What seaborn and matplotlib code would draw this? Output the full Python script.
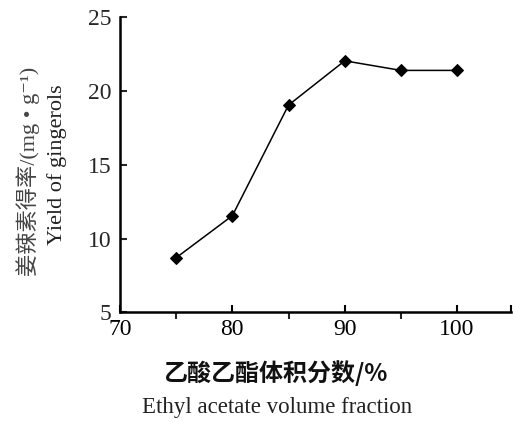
import matplotlib
matplotlib.use("Agg")
import matplotlib.pyplot as plt
import seaborn as sns
import pandas as pd
from matplotlib.ticker import FixedLocator, NullFormatter

fraction = [75, 80, 85, 90, 95, 100]
yield_vals = [8.7, 11.55, 19.05, 22.05, 21.4, 21.4]
xtick_labels = ["70", "80", "90", "100"]
ytick_vals = [5, 10, 15, 20, 25]

sns.set_theme(style="ticks")
plt.rcParams['font.family'] = ['Liberation Serif', 'Noto Sans CJK SC', 'DejaVu Sans']

df = pd.DataFrame({"fraction": fraction, "yield": yield_vals})

fig = plt.figure(figsize=(5.13, 4.22), dpi=100)
ax = fig.add_axes([120/513, 1-312.3/422, (511-120)/513, (312.3-17.3)/422])

sns.lineplot(data=df, x="fraction", y="yield", ax=ax, color="black",
             marker="D", markersize=6, markeredgecolor="black", linewidth=1.1)

ax.set_xlim(70, 104.8)
ax.set_ylim(5, 25)
ax.set_xticks([70, 80, 90, 100, 104.8], labels=xtick_labels + [""])
ax.set_yticks(ytick_vals, labels=[str(v) for v in ytick_vals])
ax.xaxis.set_minor_locator(FixedLocator([75, 85, 95, 104.8]))
ax.xaxis.set_minor_formatter(NullFormatter())
ax.tick_params(axis="x", which="major", direction="in", length=5, width=1.5,
               labelsize=17, colors="black", pad=5)
ax.tick_params(axis="x", which="minor", direction="out", length=5, width=1.5)
ax.tick_params(axis="y", which="major", direction="in", length=5, width=1.5,
               labelsize=17, pad=6)
for s in ["top", "right"]:
    ax.spines[s].set_visible(False)
for s in ["left", "bottom"]:
    ax.spines[s].set_linewidth(1.8)
    ax.spines[s].set_color("black")
ax.set_xlabel("")
ax.set_ylabel("")

fig.text(28/513, 1-171/422, "姜辣素得率/(mg • g\u207b\u00b9)", rotation=90,
         ha="center", va="center", fontsize=16, color="#444444")
fig.text(57/513, 1-165/422, "Yield of gingerols", rotation=90,
         ha="center", va="center", fontsize=16, color="#222222")
fig.text(275/513, 1-373/422, "乙酸乙酯体积分数/%", ha="center", va="center",
         fontsize=17.3, fontweight="bold",
         family=['Noto Sans CJK SC', 'DejaVu Sans'], color="#111111")
fig.text(277/513, 1-408/422, "Ethyl acetate volume fraction", ha="center",
         va="center", fontsize=16.5, color="#222222")

fig.savefig("out.png", dpi=100)
